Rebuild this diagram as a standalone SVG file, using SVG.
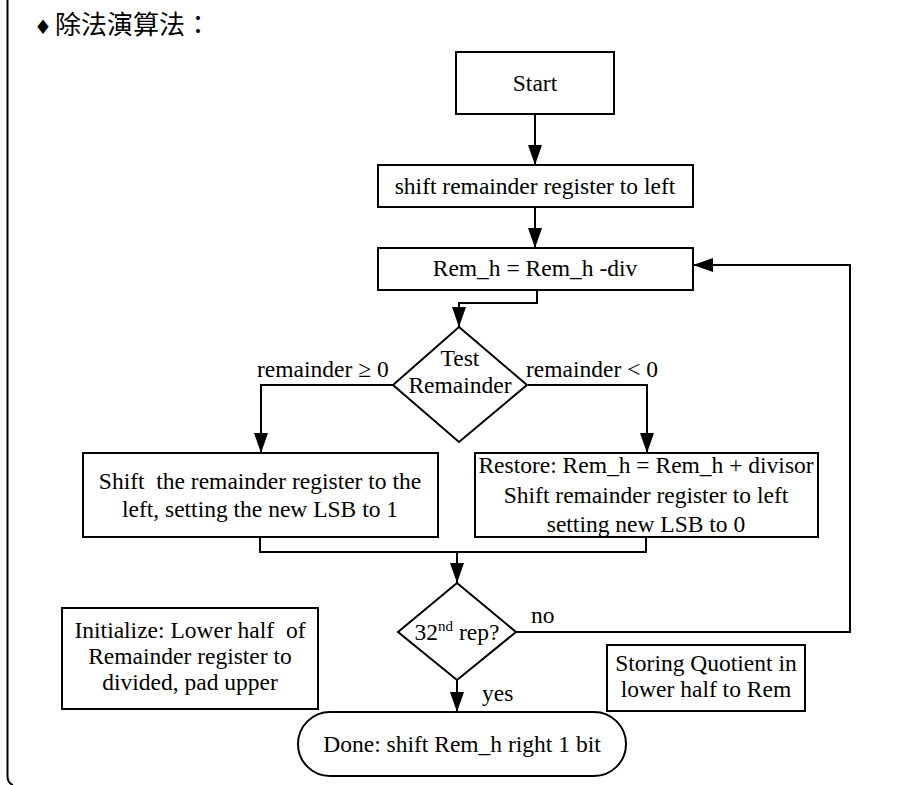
<svg xmlns="http://www.w3.org/2000/svg" width="922" height="785" viewBox="0 0 922 785">
<style>
.t{font-family:"Liberation Serif","Times New Roman",serif;font-size:23.5px;fill:#000}
.c{text-anchor:middle}
.b{fill:#fff;stroke:#000;stroke-width:2}
.l{fill:none;stroke:#000;stroke-width:2}
</style>
<defs>
<marker id="ah" markerUnits="userSpaceOnUse" markerWidth="20" markerHeight="14" refX="20" refY="7" orient="auto">
<path d="M0,0 L20,7 L0,14 z" fill="#000"/>
</marker>
</defs>
<rect width="922" height="785" fill="#fff"/>
<path class="l" d="M7.5,0 V776 Q7.5,783 13,785"/>
<text y="34" font-size="26" font-family="'Noto Sans CJK TC','Noto Sans CJK SC',sans-serif"><tspan x="34" font-family="'DejaVu Sans',sans-serif" font-size="20">♦</tspan><tspan x="55">除法演算法：</tspan></text>

<g id="connectors" class="l" marker-end="url(#ah)">
<path d="M535,114 V165"/>
<path d="M535,207 V248"/>
<path d="M537,290 V303 H459 V327"/>
<path d="M393,385 H261 V453"/>
<path d="M528,385 H647 V453"/>
<path d="M260,537 V552 H646 V537" marker-end="none"/>
<path d="M457,552 V583"/>
<path d="M457,680 V712"/>
<path d="M516,632 H850 V265 H693"/>
</g>

<g id="start"><rect class="b" x="456" y="52" width="158" height="62"/><text class="t c" x="535" y="91">Start</text></g>
<g id="shift"><rect class="b" x="378" y="165" width="315" height="42"/><text class="t c" x="535" y="194">shift remainder register to left</text></g>
<g id="sub"><rect class="b" x="378" y="248" width="315" height="42"/><text class="t c" x="535" y="276">Rem_h = Rem_h -div</text></g>
<g id="test"><polygon class="b" points="459,327 527,385 459,442 393,385"/><text class="t c" x="460" y="366">Test</text><text class="t c" x="460" y="393">Remainder</text></g>
<g id="lab-ge"><text class="t" x="257" y="377">remainder ≥ 0</text></g>
<g id="lab-lt"><text class="t" x="526" y="377">remainder &lt; 0</text></g>
<g id="left"><rect class="b" x="83" y="453" width="355" height="84"/><text class="t c" x="260" y="489" xml:space="preserve">Shift  the remainder register to the</text><text class="t c" x="260" y="517">left, setting the new LSB to 1</text></g>
<g id="right"><rect class="b" x="475" y="453" width="343" height="84"/><text class="t c" x="646" y="473">Restore: Rem_h = Rem_h + divisor</text><text class="t c" x="646" y="503">Shift remainder register to left</text><text class="t c" x="646" y="532">setting new LSB to 0</text></g>
<g id="rep"><polygon class="b" points="457,583 516,632 457,680 398,632"/><text class="t c" x="457" y="640">32<tspan font-size="15" dy="-9">nd</tspan><tspan dy="9"> rep?</tspan></text></g>
<g id="lab-no"><text class="t" x="531" y="623">no</text></g>
<g id="lab-yes"><text class="t" x="482" y="701">yes</text></g>
<g id="init"><rect class="b" x="62" y="608" width="256" height="101"/><text class="t c" x="190" y="638" xml:space="preserve">Initialize: Lower half  of</text><text class="t c" x="190" y="664">Remainder register to</text><text class="t c" x="190" y="690">divided, pad upper</text></g>
<g id="store"><rect class="b" x="607" y="645" width="198" height="66"/><text class="t c" x="706" y="671">Storing Quotient in</text><text class="t c" x="706" y="697">lower half to Rem</text></g>
<g id="done"><rect class="b" x="298" y="712" width="328" height="64" rx="32"/><text class="t c" x="462" y="752">Done: shift Rem_h right 1 bit</text></g>
</svg>
